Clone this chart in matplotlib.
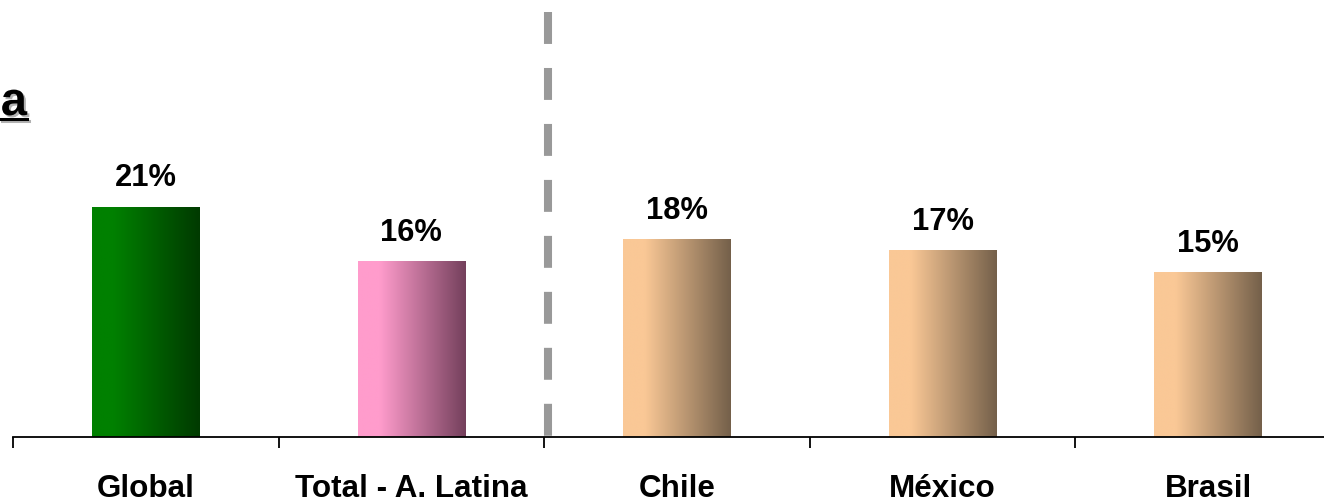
import numpy as np
import matplotlib as mpl
mpl.use("Agg")
import matplotlib.pyplot as plt
import matplotlib.patheffects as pe
from matplotlib.colors import to_rgb
from matplotlib.lines import Line2D

# data
categories = ["Global", "Total - A. Latina", "Chile", "México", "Brasil"]
values = [21, 16, 18, 17, 15]
labels = ["21%", "16%", "18%", "17%", "15%"]

# gradient colours (left -> right) for each bar
light = ["#008000", "#ff9ccc", "#fac896", "#fac896", "#fac896"]
dark = ["#003a00", "#74405c", "#74604a", "#74604a", "#74604a"]

plt.rcParams['font.family'] = ['Liberation Sans', 'DejaVu Sans']
plt.rcParams['lines.scale_dashes'] = False

W, H = 1324, 502
fig = plt.figure(figsize=(W / 100, H / 100), dpi=100)
ax = fig.add_axes([13 / W, (H - 438) / H, (1341 - 13) / W, (438 - 13) / H])

x = np.arange(len(categories))
bars = ax.bar(x, values, width=0.405, color="none", edgecolor="none")

# horizontal gradient fill for every bar
for b, c1, c2 in zip(bars, light, dark):
    c1 = np.array(to_rgb(c1))
    c2 = np.array(to_rgb(c2))
    t = np.linspace(0, 1, 256)
    t = np.clip((t - 0.2) / 0.8, 0, 1)
    grad = c1[None, :] * (1 - t[:, None]) + c2[None, :] * t[:, None]
    x0, y0 = b.get_x(), b.get_y()
    ax.imshow(grad[None, :, :], extent=[x0, x0 + b.get_width(), y0, y0 + b.get_height()],
              aspect="auto", interpolation="bilinear", zorder=2)

ax.set_xlim(-0.5, len(categories) - 0.5)
ax.set_ylim(0, (438 - 13) / 10.95)

# value labels above bars
for xi, v, lab in zip(x, values, labels):
    ax.annotate(lab, xy=(xi, v), xytext=(0, 15.8), textcoords="offset points",
                ha="center", va="baseline", fontsize=22.2, fontweight="bold")

# category labels under the axis
for xi, cat in zip(x, categories):
    ax.annotate(cat, xy=(xi, 0), xycoords=("data", "axes fraction"),
                xytext=(0, -42.3), textcoords="offset points",
                ha="center", va="baseline", fontsize=22.6, fontweight="bold",
                annotation_clip=False)

# axis styling: only bottom line, ticks between categories
for s in ["top", "left", "right"]:
    ax.spines[s].set_visible(False)
ax.spines["bottom"].set_linewidth(1.3)
ax.set_yticks([])
ax.set_xticks(np.arange(-0.5, len(categories) + 0.5, 1))
ax.set_xticklabels([])
ax.tick_params(axis="x", direction="out", length=8, width=1.3)

# dashed separator between total and countries
ax.plot([1.513, 1.513], [(438 - 13) / 10.95, (438 - 458) / 10.95], color="#999999",
        lw=5.8, linestyle=(0, (23, 17.3)), solid_capstyle="butt",
        dash_capstyle="butt", clip_on=False, zorder=1)

# cropped, underlined title fragment at the top left
fig.text(27 / W, (H - 116) / H, "a", ha="right", va="baseline", fontsize=34,
         fontweight="bold",
         path_effects=[pe.withSimplePatchShadow(offset=(1.5, -1.5), shadow_rgbFace="gray", alpha=0.6)])
fig.add_artist(Line2D([0, 27 / W], [(H - 120) / H, (H - 120) / H], color="black",
                      lw=2.2, transform=fig.transFigure,
                      path_effects=[pe.SimpleLineShadow(offset=(1.5, -1.5), shadow_color="gray", alpha=0.6),
                                    pe.Normal()]))

fig.savefig("out.png", dpi=100)
